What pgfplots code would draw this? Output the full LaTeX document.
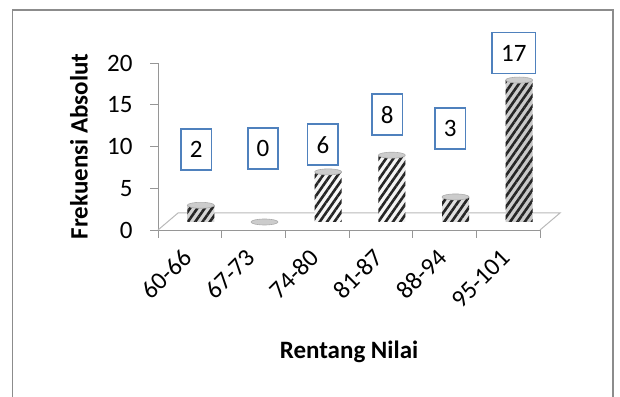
\documentclass[border=0pt]{standalone}
\usepackage{fontspec}
\setmainfont{Carlito}
\usepackage{pgfplots}
\usepackage{pgfplotstable}
\pgfplotsset{compat=1.18}
\usetikzlibrary{patterns.meta}

\definecolor{labelblue}{RGB}{79,129,189}
\definecolor{axisgray}{RGB}{150,150,150}
\definecolor{floorgray}{RGB}{185,185,185}
\definecolor{framegray}{RGB}{140,140,140}

% flat ellipse used as the lid of each cylinder
\pgfdeclareplotmark{cyltop}{%
  \pgfpathellipse{\pgfpointorigin}{\pgfqpoint{13.5pt}{0pt}}{\pgfqpoint{0pt}{3pt}}%
  \pgfusepathqfillstroke}

% category index, frequency, and where each value box sits
\pgfplotstableread{
cat value lx ly
0 2 0.10 9.6
1 0 1.15 9.8
2 6 2.09 10.2
3 8 3.10 13.8
4 3 4.09 12.2
5 17 5.09 21.2
}\freq

\newcommand{\chartfont}{\fontsize{25}{27}\selectfont}

\begin{document}
\begin{tikzpicture}[x=1pt,y=1pt]
\useasboundingbox (0,0) rectangle (620,396);
\draw[framegray, line width=1.4pt] (12.5,-3) -- (12.5,386) -- (613,386) -- (613,-3);
\begin{axis}[
  at={(158pt,166pt)}, anchor=south west,
  scale only axis, width=382pt, height=167pt,
  xmin=-0.5, xmax=5.5, ymin=0, ymax=20,
  axis x line*=bottom, axis y line*=left,
  axis line style={axisgray, line width=0.9pt},
  ytick={0,5,10,15,20},
  yticklabel={\pgfmathprintnumber{\tick}\kern14pt},
  xtick={-0.5,0.5,...,5.5},
  xticklabels={60-66,67-73,74-80,81-87,88-94,95-101},
  x tick label as interval,
  tick align=outside, major tick length=8pt,
  tick style={axisgray, line width=0.9pt},
  /pgf/number format/assume math mode=true,
  tick label style={font=\chartfont, black},
  xticklabel style={yshift=-13pt, rotate=45, anchor=east},
  every axis y label/.style={at={(axis description cs:0,0.5)}, xshift=-79pt,
    rotate=90, anchor=center, font=\chartfont\bfseries},
  every axis x label/.style={at={(axis description cs:0.5,0)}, yshift=-122pt,
    anchor=center, font=\chartfont\bfseries},
  ylabel={Frekuensi Absolut},
  xlabel={Rentang Nilai},
  clip=false,
]
% floor of the 3-D plot area
\draw[floorgray, line width=1pt] (axis cs:-0.5,0) -- ([shift={(20pt,17pt)}]axis cs:-0.5,0)
  -- ([shift={(20pt,17pt)}]axis cs:5.5,0) -- (axis cs:5.5,0);

% cylinder body: shaded, then hatched
\addplot[ybar, bar width=27pt, bar shift=0pt, draw=none, xshift=11pt, yshift=8pt,
  left color=gray!35, right color=gray!45, middle color=white]
  table[x=cat, y=value]{\freq};
\addplot[ybar, bar width=27pt, bar shift=0pt, draw=none, xshift=11pt, yshift=8pt,
  pattern={Lines[angle=55, distance=6pt, line width=2.6pt]}, pattern color=black!85]
  table[x=cat, y=value]{\freq};
% cylinder lids
\addplot[only marks, mark=cyltop, xshift=11pt, yshift=8pt,
  mark options={fill=gray!40, draw=gray!65, line width=0.6pt}]
  table[x=cat, y=value]{\freq};

% value boxes
\addplot[draw=none, nodes near coords, point meta=explicit symbolic,
  nodes near coords style={anchor=center, draw=labelblue, line width=1.8pt,
    fill=white, font=\chartfont, text=black, inner xsep=9pt, inner ysep=0pt,
    minimum height=41pt}]
  table[x=lx, y=ly, meta=value]{\freq};
\end{axis}
\end{tikzpicture}
\end{document}
